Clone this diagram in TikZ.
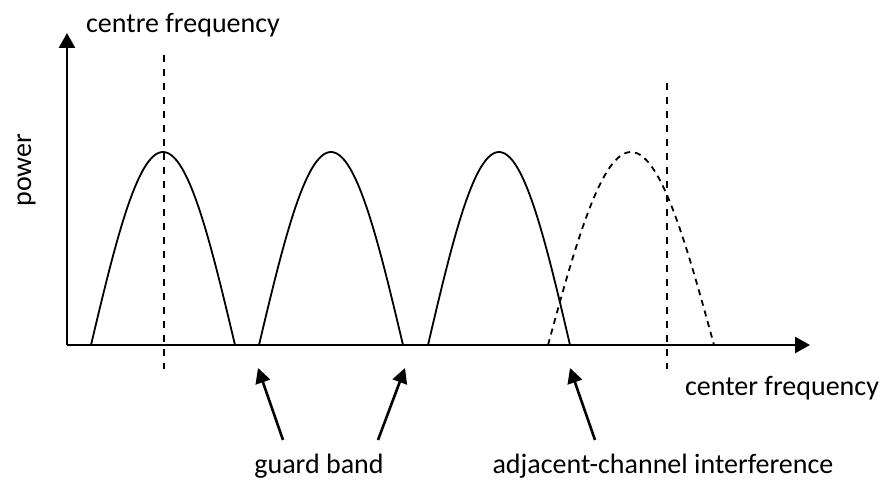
\documentclass[tikz,border=0pt]{standalone}
\usepackage{fontspec}
\setmainfont{Carlito}
\usetikzlibrary{arrows.meta}
\begin{document}
\begin{tikzpicture}[x=1pt,y=-1pt,declare function={h=193;},
  lbl/.style={font=\fontsize{28}{32}\selectfont,inner sep=0pt,anchor=base},
  axis/.style={line width=2.6pt,-{Triangle[length=15pt,width=16pt]}},
  ptr/.style={line width=2.6pt,-{Triangle[length=15pt,width=15pt]}},
  hump/.style={line width=1.8pt,smooth},
  mark line/.style={line width=1.8pt,dash pattern=on 7pt off 7pt}]
        \useasboundingbox (0,0) rectangle (882,484);
        \path
        (67,345) coordinate (O)
        (67,33) coordinate (Y)
        (810,345) coordinate (X)
        (164,55) coordinate (C1)
        (164,369) coordinate (C1b)
        (667,83) coordinate (C2)
        (667,369) coordinate (C2b)
        (283,440) coordinate (T1) (258,368) coordinate (P1)
        (378,440) coordinate (T2) (405,368) coordinate (P2)
        (595,440) coordinate (T3) (570,368) coordinate (P3)
        ;
        % channels
        \foreach \c/\w in {163/72,331/72,499/71}
        \draw[hump] plot[domain=-\w:\w,samples=60] ({\c+\x},{345-h*cos(90*\x/\w)});
        \draw[hump,dash pattern=on 6pt off 5pt] plot[domain=-83:83,samples=70] ({631+\x},{345-h*cos(90*\x/83)});
        \draw[mark line] (C1)--(C1b) (C2)--(C2b);
        \draw[axis] (O)--(Y);
        \draw[axis] (O)--(X);
        \node[lbl] (ctr) at (183,33) {centre frequency};
        \node[lbl,rotate=90] (ylab) at (31,170) {power};
        \node[lbl] (xlab) at (782,395) {center frequency};
        \node[lbl] (gb) at (319,473) {guard band};
        \node[lbl] (aci) at (663,473) {adjacent-channel interference};
        \foreach \t/\p in {T1/P1,T2/P2,T3/P3}\draw[ptr] (\t)--(\p);
    \end{tikzpicture}
\end{document}
